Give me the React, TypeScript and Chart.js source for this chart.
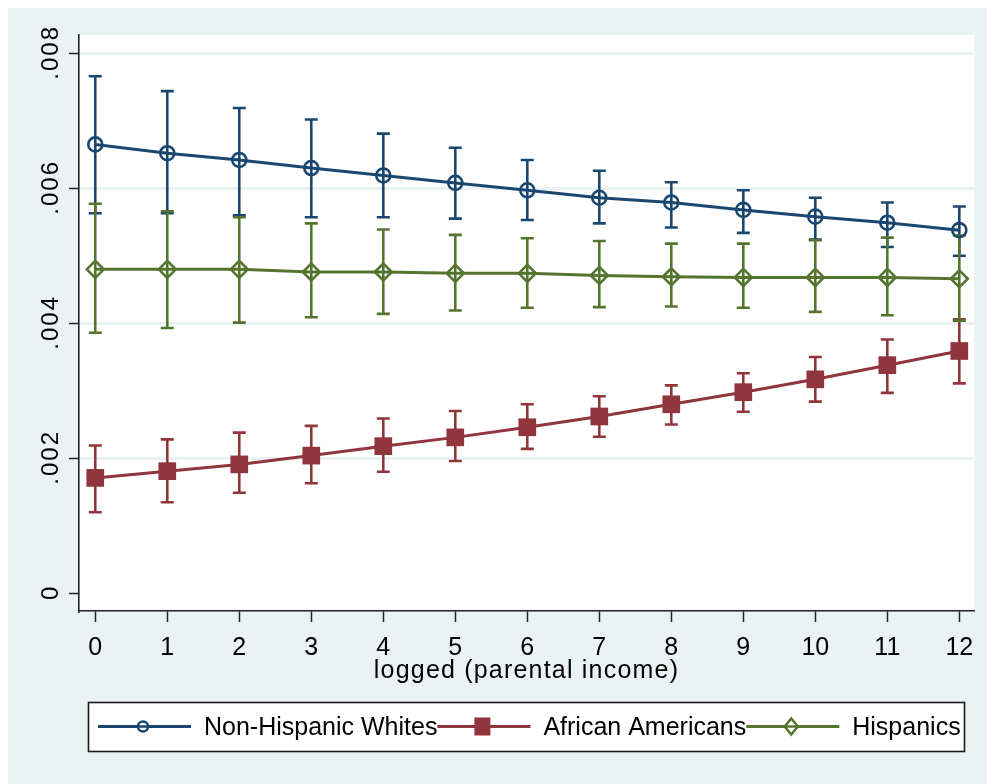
import React, { useEffect, useRef } from 'react';
import { Chart, registerables } from 'chart.js';

Chart.register(...registerables);

// ---------- data ----------
const xValues = [0, 1, 2, 3, 4, 5, 6, 7, 8, 9, 10, 11, 12];
const xTickLabels = ['0', '1', '2', '3', '4', '5', '6', '7', '8', '9', '10', '11', '12'];
const yTickValues = [0, 0.002, 0.004, 0.006, 0.008];
const yTickLabels = ['0', '.002', '.004', '.006', '.008'];
const xTitle = 'logged (parental income)';
const seriesNames = ['Non-Hispanic Whites', 'African Americans', 'Hispanics'];

const whitesMean = [0.00665, 0.00652, 0.00642, 0.0063, 0.00619, 0.00608, 0.00597, 0.00586, 0.00579, 0.00568, 0.00558, 0.00549, 0.00538];
const whitesLow = [0.00563, 0.00563, 0.0056, 0.00557, 0.00557, 0.00555, 0.00553, 0.00548, 0.00542, 0.00534, 0.00524, 0.00513, 0.005];
const whitesHigh = [0.00766, 0.00744, 0.00719, 0.00702, 0.00681, 0.0066, 0.00642, 0.00626, 0.00609, 0.00597, 0.00586, 0.00579, 0.00573];

const blackMean = [0.00171, 0.00181, 0.00191, 0.00204, 0.00218, 0.00231, 0.00246, 0.00262, 0.0028, 0.00298, 0.00317, 0.00338, 0.00359];
const blackLow = [0.0012, 0.00135, 0.00149, 0.00163, 0.0018, 0.00196, 0.00214, 0.00232, 0.0025, 0.00269, 0.00284, 0.00297, 0.00311];
const blackHigh = [0.00219, 0.00228, 0.00238, 0.00248, 0.00259, 0.0027, 0.0028, 0.00292, 0.00308, 0.00326, 0.0035, 0.00376, 0.00406];

const hispMean = [0.0048, 0.0048, 0.0048, 0.00476, 0.00476, 0.00474, 0.00474, 0.00471, 0.00469, 0.00468, 0.00468, 0.00468, 0.00466];
const hispLow = [0.00386, 0.00393, 0.00401, 0.00409, 0.00414, 0.00419, 0.00423, 0.00424, 0.00425, 0.00423, 0.00417, 0.00412, 0.00404];
const hispHigh = [0.00577, 0.00566, 0.00557, 0.00548, 0.00539, 0.00531, 0.00526, 0.00522, 0.00518, 0.00518, 0.00523, 0.00527, 0.0053];

// ---------- style ----------
const NAVY = '#1a476f';
const MAROON = '#90353b';
const GREEN = '#55752f';
const BG = '#eaf2f3';
const FONT = '"Liberation Sans", Arial, sans-serif';

const W = 979;
const H = 776;

const pts = (ys: number[]) => xValues.map((x, i) => ({ x, y: ys[i] }));

const errorSets = [
  { low: whitesLow, high: whitesHigh, color: NAVY },
  { low: blackLow, high: blackHigh, color: MAROON },
  { low: hispLow, high: hispHigh, color: GREEN },
];

const bgPlugin = {
  id: 'bgPlugin',
  beforeDraw(chart: any) {
    const { ctx, chartArea } = chart;
    ctx.save();
    ctx.fillStyle = BG;
    ctx.fillRect(0, 0, chart.width, chart.height);
    ctx.fillStyle = '#ffffff';
    ctx.fillRect(chartArea.left, chartArea.top, chartArea.right - chartArea.left, chartArea.bottom - chartArea.top);
    ctx.restore();
  },
};

const errorBarPlugin = {
  id: 'errorBarPlugin',
  beforeDatasetsDraw(chart: any) {
    const { ctx } = chart;
    const xs = chart.scales.x;
    const ys = chart.scales.y;
    ctx.save();
    errorSets.forEach((set) => {
      ctx.strokeStyle = set.color;
      ctx.lineWidth = 2.6;
      ctx.lineCap = 'butt';
      xValues.forEach((xv, i) => {
        const px = xs.getPixelForValue(xv);
        const pLow = ys.getPixelForValue(set.low[i]);
        const pHigh = ys.getPixelForValue(set.high[i]);
        ctx.beginPath();
        ctx.moveTo(px, pLow);
        ctx.lineTo(px, pHigh);
        ctx.moveTo(px - 6.5, pLow);
        ctx.lineTo(px + 6.5, pLow);
        ctx.moveTo(px - 6.5, pHigh);
        ctx.lineTo(px + 6.5, pHigh);
        ctx.stroke();
      });
    });
    ctx.restore();
  },
};

const textPlugin = {
  id: 'textPlugin',
  afterDraw(chart: any) {
    const { ctx, chartArea } = chart;
    const ys = chart.scales.y;
    ctx.save();
    ctx.fillStyle = '#000';
    ctx.font = `24px ${FONT}`;
    (ctx as any).letterSpacing = '2px';
    ctx.textAlign = 'center';
    ctx.textBaseline = 'middle';
    yTickValues.forEach((v, i) => {
      const py = ys.getPixelForValue(v);
      ctx.save();
      ctx.translate(43.5, py);
      ctx.rotate(-Math.PI / 2);
      ctx.fillText(yTickLabels[i], 1, 0);
      ctx.restore();
    });
    // x-axis title
    ctx.font = `25px ${FONT}`;
    (ctx as any).letterSpacing = '1.2px';
    ctx.fillText(xTitle, (chartArea.left + chartArea.right) / 2, 663);
    (ctx as any).letterSpacing = '0px';
    ctx.restore();
  },
};

const legendPlugin = {
  id: 'customLegend',
  afterDraw(chart: any) {
    const { ctx } = chart;
    const boxL = 80.5, boxT = 694.5, boxW = 876, boxH = 49;
    ctx.save();
    ctx.fillStyle = '#ffffff';
    ctx.fillRect(boxL, boxT, boxW, boxH);
    ctx.strokeStyle = '#1a1a1a';
    ctx.lineWidth = 1.6;
    ctx.strokeRect(boxL, boxT, boxW, boxH);

    ctx.font = `25px ${FONT}`;
    ctx.textBaseline = 'middle';
    ctx.textAlign = 'left';
    const lineY = 718.5;
    const colors = [NAVY, MAROON, GREEN];
    let lineStart = 90;
    seriesNames.forEach((name, i) => {
      const c = colors[i];
      const lineEnd = lineStart + 93;
      const mx = lineStart + 45;
      ctx.strokeStyle = c;
      ctx.lineWidth = 3;
      ctx.beginPath();
      ctx.moveTo(lineStart, lineY);
      ctx.lineTo(lineEnd, lineY);
      ctx.stroke();
      ctx.lineWidth = 2.5;
      if (i === 0) {
        ctx.fillStyle = '#ffffff';
        ctx.beginPath();
        ctx.arc(mx, lineY, 5, 0, Math.PI * 2);
        ctx.fill();
        ctx.stroke();
        ctx.beginPath();
        ctx.moveTo(mx - 5, lineY);
        ctx.lineTo(mx + 5, lineY);
        ctx.stroke();
      } else if (i === 1) {
        ctx.fillStyle = c;
        ctx.fillRect(mx - 8, lineY - 9, 16, 18);
      } else {
        ctx.fillStyle = '#ffffff';
        ctx.beginPath();
        ctx.moveTo(mx, lineY - 8);
        ctx.lineTo(mx + 6.5, lineY);
        ctx.lineTo(mx, lineY + 8);
        ctx.lineTo(mx - 6.5, lineY);
        ctx.closePath();
        ctx.fill();
        ctx.stroke();
        ctx.beginPath();
        ctx.moveTo(mx - 6.5, lineY);
        ctx.lineTo(mx + 6.5, lineY);
        ctx.stroke();
      }
      const textX = lineStart + 106;
      ctx.fillStyle = '#000';
      ctx.fillText(name, textX, lineY + 1.5);
      lineStart = textX + ctx.measureText(name).width;
    });
    ctx.restore();
  },
};

export default function App() {
  const canvasRef = useRef<HTMLCanvasElement | null>(null);

  useEffect(() => {
    document.documentElement.style.overflow = 'hidden';
    document.body.style.overflow = 'hidden';
    const canvas = canvasRef.current;
    if (!canvas) return;
    const chart = new Chart(canvas, {
      type: 'line',
      data: {
        datasets: [
          {
            label: seriesNames[0],
            data: pts(whitesMean),
            borderColor: NAVY,
            borderWidth: 3,
            pointStyle: 'circle',
            pointRadius: 7,
            pointBorderWidth: 2.6,
            pointBorderColor: NAVY,
            pointBackgroundColor: 'rgba(0,0,0,0)',
            tension: 0,
          },
          {
            label: seriesNames[1],
            data: pts(blackMean),
            borderColor: MAROON,
            borderWidth: 3,
            pointStyle: 'rect',
            pointRadius: 12.5,
            pointBorderWidth: 0,
            pointBackgroundColor: MAROON,
            pointBorderColor: MAROON,
            tension: 0,
          },
          {
            label: seriesNames[2],
            data: pts(hispMean),
            borderColor: GREEN,
            borderWidth: 3,
            pointStyle: 'rectRot',
            pointRadius: 8.5,
            pointBorderWidth: 2.6,
            pointBorderColor: GREEN,
            pointBackgroundColor: 'rgba(0,0,0,0)',
            tension: 0,
          },
        ],
      },
      options: {
        animation: false,
        responsive: false,
        maintainAspectRatio: false,
        devicePixelRatio: 1,
        layout: { padding: { top: 27, right: 13, left: 0, bottom: 0 } },
        plugins: {
          legend: { display: false },
          tooltip: { enabled: false },
          title: { display: false },
        },
        scales: {
          x: {
            type: 'linear',
            min: -0.226,
            max: 12.204,
            afterBuildTicks: (s: any) => {
              s.ticks = xValues.map((v) => ({ value: v }));
            },
            afterFit: (s: any) => {
              s.height = H - 603;
            },
            grid: {
              drawOnChartArea: false,
              drawTicks: true,
              tickLength: 11,
              tickColor: '#222',
              tickWidth: 1.5,
            },
            border: { display: true, color: '#222', width: 1.6 },
            ticks: {
              color: '#000',
              font: { family: FONT, size: 25 },
              padding: 11,
              maxRotation: 0,
              minRotation: 0,
              autoSkip: false,
              callback: (_v: any, i: number) => xTickLabels[i],
            },
            title: { display: false },
          },
          y: {
            type: 'linear',
            min: -0.000262,
            max: 0.008271,
            afterBuildTicks: (s: any) => {
              s.ticks = yTickValues.map((v) => ({ value: v }));
            },
            afterFit: (s: any) => {
              s.width = 71;
            },
            grid: {
              color: (c: any) => (c.tick && c.tick.value === 0 ? 'rgba(0,0,0,0)' : BG),
              lineWidth: 3,
              drawTicks: true,
              tickLength: 10,
              tickColor: '#222',
              tickWidth: 1.5,
            },
            border: { display: true, color: '#222', width: 1.6 },
            ticks: { display: false },
          },
        },
      },
      plugins: [bgPlugin, errorBarPlugin, textPlugin, legendPlugin],
    } as any);
    return () => chart.destroy();
  }, []);

  return (
    <div style={{ position: 'fixed', left: 8, top: 8, right: 0, bottom: 0, background: BG, overflow: 'hidden' }}>
      <canvas ref={canvasRef} width={W} height={H} style={{ display: 'block', width: W, height: H }} />
    </div>
  );
}
